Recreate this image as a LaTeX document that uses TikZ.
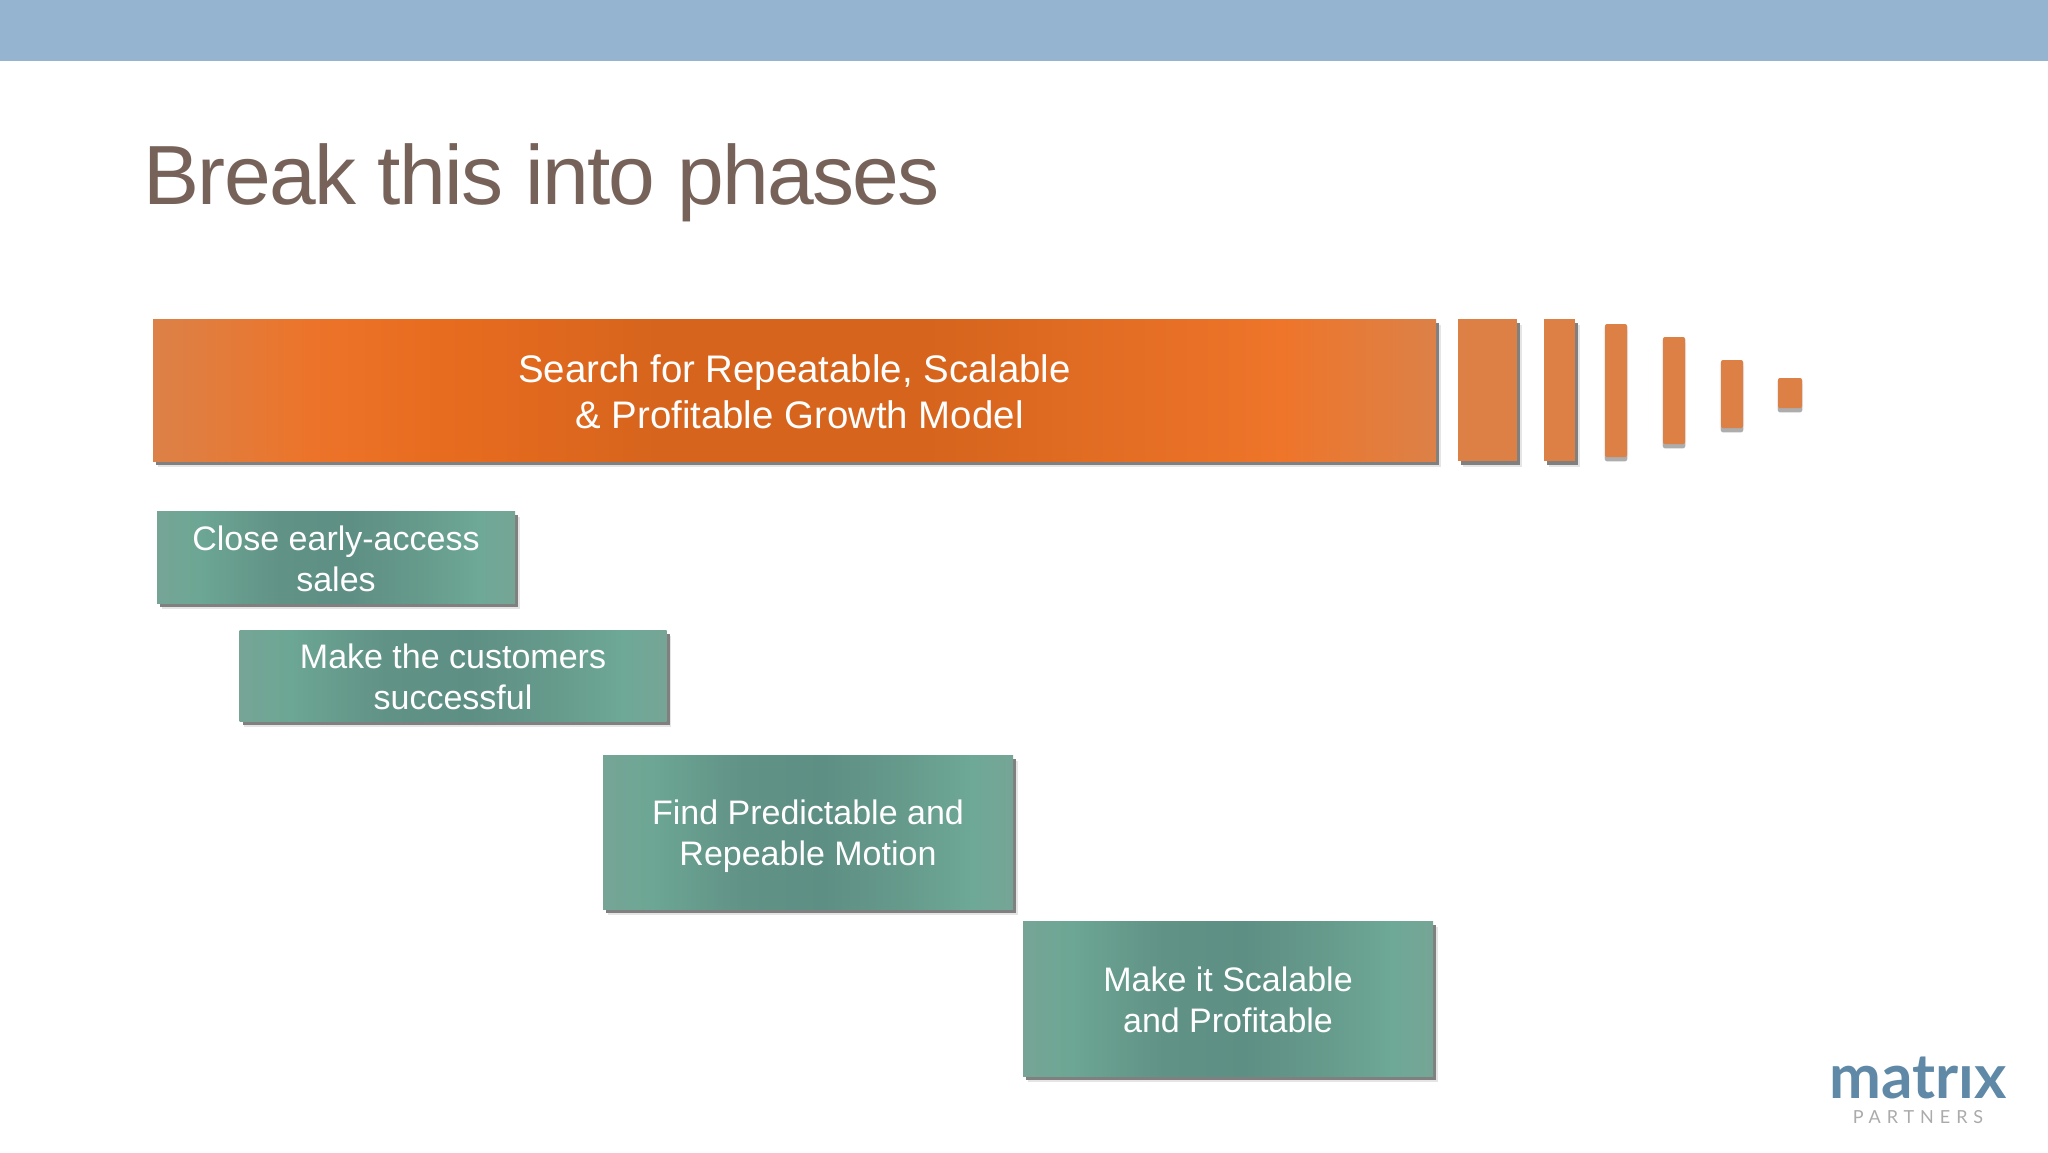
\documentclass[tikz,border=0pt]{standalone}
\usepackage{fontspec}
\setmainfont{Liberation Sans}
\newfontfamily\logofont{Lato}
\usetikzlibrary{shadows}
\definecolor{bandblue}{HTML}{95B4D0}
\definecolor{titlebrown}{HTML}{77625A}
\definecolor{flatorange}{HTML}{DC8045}
\definecolor{logoblue}{HTML}{5F89A7}
\definecolor{logogrey}{HTML}{ABABAB}
\newcommand\lowerstrut[1][0.82em]{\rule{0pt}{#1}}
\pgfdeclarehorizontalshading{orangeshade}{100bp}{
 rgb(0bp)=(.863,.506,.282);
 rgb(25bp)=(.863,.506,.282);
 rgb(31bp)=(.925,.455,.165);
 rgb(36bp)=(.91,.424,.125);
 rgb(45bp)=(.839,.392,.11);
 rgb(55bp)=(.839,.392,.11);
 rgb(69bp)=(.933,.459,.165);
 rgb(75bp)=(.863,.506,.282);
 rgb(100bp)=(.863,.506,.282)}
\pgfdeclarehorizontalshading{greenshade}{100bp}{
 rgb(0bp)=(.463,.647,.588);
 rgb(25bp)=(.463,.647,.588);
 rgb(31bp)=(.424,.651,.58);
 rgb(42bp)=(.38,.573,.525);
 rgb(52bp)=(.369,.561,.518);
 rgb(62bp)=(.4,.608,.549);
 rgb(70bp)=(.431,.659,.588);
 rgb(75bp)=(.463,.647,.588);
 rgb(100bp)=(.463,.647,.588)}
\tikzset{
 softshadow/.style={general shadow={fill=black!10,shadow xshift=2.4pt,shadow yshift=-2.8pt},
   general shadow={fill=black!50,shadow xshift=1.6pt,shadow yshift=-1.8pt}},
 faintshadow/.style={general shadow={fill=black!8,draw=black!8,line width=1.2pt,shadow xshift=0pt,shadow yshift=-1.2pt},
   general shadow={fill=black!32,shadow xshift=0pt,shadow yshift=-2.2pt}},
 labelbox/.style={draw=none,rectangle,inner sep=0pt,align=center,text=white,softshadow},
 mainbox/.style={labelbox,shading=orangeshade,font=\fontsize{19.2pt}{23pt}\selectfont},
 greenbox/.style={labelbox,shading=greenshade,font=\fontsize{17pt}{20.5pt}\selectfont},
 flatbar/.style={rectangle,inner sep=0pt,fill=flatorange,softshadow},
 softbar/.style={rectangle,inner sep=0pt,fill=flatorange,rounded corners=1pt,faintshadow}
}
\begin{document}
\begin{tikzpicture}[x=0.5pt,y=-0.5pt]
\useasboundingbox (0,0) rectangle (2048,1152);
\fill[white] (0,0) rectangle (2048,1152);
\fill[bandblue] (0,0) rectangle (2048,61);
\node[anchor=base west,inner sep=0pt,text=titlebrown,font=\fontsize{42pt}{46pt}\selectfont\addfontfeatures{LetterSpace=-2}] (title) at (143,204) {Break this into phases};
\node[mainbox,minimum width=641.5pt,minimum height=71pt] (search) at (794.5,390) {\lowerstrut{}Search for Repeatable, Scalable\\\hspace*{5pt}\& Profitable Growth Model};
\node[flatbar,minimum width=29.5pt,minimum height=71pt] (b1) at (1487.5,390) {};
\node[flatbar,minimum width=15.5pt,minimum height=71pt] (b2) at (1559.5,390) {};
\node[softbar,minimum width=11pt,minimum height=66.5pt] (b3) at (1616,390.5) {};
\node[softbar,minimum width=11pt,minimum height=53.5pt] (b4) at (1674,390.5) {};
\node[softbar,minimum width=11pt,minimum height=34pt] (b5) at (1732,394) {};
\node[softbar,minimum width=12pt,minimum height=15pt] (b6) at (1790,393) {};
\node[greenbox,minimum width=179pt,minimum height=46pt] (close) at (336,557) {\lowerstrut{}Close early-access\\sales};
\node[greenbox,minimum width=213.5pt,minimum height=45.5pt] (cust) at (453,675.5) {\lowerstrut{}Make the customers\\successful};
\node[greenbox,minimum width=205pt,minimum height=77pt] (find) at (808,832) {\lowerstrut[0.97em]{}Find Predictable and\\Repeable Motion};
\node[greenbox,minimum width=205pt,minimum height=77.5pt] (scale) at (1228,998.5) {\lowerstrut{}Make it Scalable\\and Profitable};
\node[anchor=base,inner sep=0pt,text=logoblue,font=\logofont\bfseries\fontsize{31pt}{31pt}\selectfont] (logo) at (1918,1098) {matrıx};
\node[anchor=base,inner sep=0pt,text=logogrey,font=\logofont\fontsize{9pt}{9pt}\selectfont\addfontfeatures{LetterSpace=33}] (partners) at (1918,1123) {PARTNERS};
\end{tikzpicture}
\end{document}
